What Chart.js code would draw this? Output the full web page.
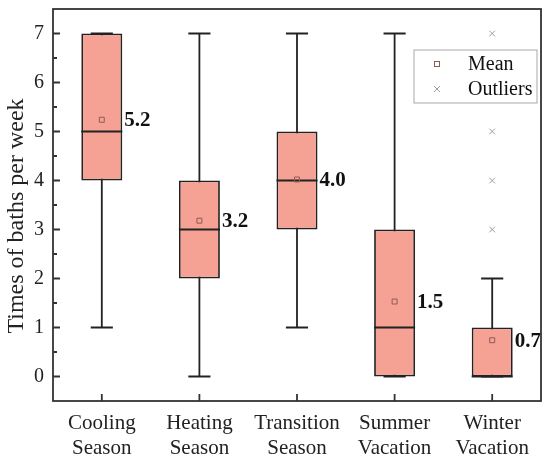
<!DOCTYPE html>
<html>
<head>
<meta charset="utf-8">
<script src="https://cdn.jsdelivr.net/npm/chart.js@4/dist/chart.umd.min.js"></script>
<style>
  html, body { margin: 0; padding: 0; background: #fff; }
  #wrap { width: 550px; height: 463px; }
</style>
</head>
<body>
<div id="wrap"><canvas id="c" width="550" height="463"></canvas></div>
<script>
// ---- data ----
const categories = [['Cooling', 'Season'], ['Heating', 'Season'], ['Transition', 'Season'], ['Summer', 'Vacation'], ['Winter', 'Vacation']];
const minVals = [1, 0, 1, 0, 0];
const q1Vals = [4, 2, 3, 0, 0];
const medianVals = [5, 3, 4, 1, 0];
const q3Vals = [7, 4, 5, 3, 1];
const maxVals = [7, 7, 7, 7, 2];
const meanVals = [5.24, 3.18, 4.02, 1.53, 0.74];
const outlierVals = [[], [], [], [], [7, 5, 4, 3]];
const yTicks = [0, 1, 2, 3, 4, 5, 6, 7];
const yMinorTicks = [0.5, 1.5, 2.5, 3.5, 4.5, 5.5, 6.5];
const yTitle = 'Times of baths per week';
const legendLabels = ['Mean', 'Outliers'];

// ---- styles ----
const SERIF = '"Liberation Serif", "Times New Roman", serif';
const BOX_FILL = '#F5A194';
const LINE = '#222222';
const MEAN_COLOR = '#8e5c53';
const OUT_COLOR = '#9c9c9c';

const outlierPoints = [];
outlierVals.forEach((arr, i) => arr.forEach(v => outlierPoints.push({ x: categories[i], y: v })));

const boxPlugin = {
  id: 'boxPlugin',
  beforeDatasetsDraw(chart) {
    const ctx = chart.ctx;
    const y = chart.scales.y;
    const meta = chart.getDatasetMeta(2);
    ctx.save();
    ctx.strokeStyle = LINE;
    ctx.lineWidth = 1.8;
    meta.data.forEach((bar, i) => {
      const cx = bar.x;
      const half = bar.width * 0.27;
      const yMin = y.getPixelForValue(minVals[i]);
      const yMax = y.getPixelForValue(maxVals[i]);
      ctx.beginPath();
      ctx.moveTo(cx, yMin); ctx.lineTo(cx, yMax);
      ctx.moveTo(cx - half, yMin); ctx.lineTo(cx + half, yMin);
      ctx.moveTo(cx - half, yMax); ctx.lineTo(cx + half, yMax);
      ctx.stroke();
    });
    ctx.restore();
  },
  afterDatasetDraw(chart, args) {
    if (args.meta.type !== 'bar') return;
    const ctx = chart.ctx;
    const y = chart.scales.y;
    ctx.save();
    ctx.strokeStyle = LINE;
    ctx.lineWidth = 1.8;
    args.meta.data.forEach((bar, i) => {
      const py = y.getPixelForValue(medianVals[i]);
      ctx.beginPath();
      ctx.moveTo(bar.x - bar.width / 2, py);
      ctx.lineTo(bar.x + bar.width / 2, py);
      ctx.stroke();
    });
    ctx.restore();
  },
  afterDraw(chart) {
    const ctx = chart.ctx;
    const ca = chart.chartArea;
    const x = chart.scales.x;
    const y = chart.scales.y;
    const meta = chart.getDatasetMeta(2);
    ctx.save();
    // mean labels
    ctx.fillStyle = '#111';
    ctx.font = 'bold 21px ' + SERIF;
    ctx.textAlign = 'left';
    ctx.textBaseline = 'middle';
    meta.data.forEach((bar, i) => {
      ctx.fillText(meanVals[i].toFixed(1), bar.x + bar.width / 2 + 2, y.getPixelForValue(meanVals[i]) + 1);
    });
    // frame
    ctx.strokeStyle = '#333';
    ctx.lineWidth = 1.8;
    ctx.strokeRect(ca.left, ca.top, ca.right - ca.left, ca.bottom - ca.top);
    // ticks (inside)
    ctx.beginPath();
    yTicks.forEach(v => {
      const py = y.getPixelForValue(v);
      ctx.moveTo(ca.left, py); ctx.lineTo(ca.left + 7, py);
    });
    yMinorTicks.forEach(v => {
      const py = y.getPixelForValue(v);
      ctx.moveTo(ca.left, py); ctx.lineTo(ca.left + 4, py);
    });
    categories.forEach((c, i) => {
      const px = x.getPixelForValue(i);
      ctx.moveTo(px, ca.bottom); ctx.lineTo(px, ca.bottom - 7);
    });
    ctx.stroke();
    // y title
    ctx.save();
    ctx.translate(16.5, 216);
    ctx.rotate(-Math.PI / 2);
    ctx.fillStyle = '#222';
    ctx.font = '24px ' + SERIF;
    ctx.textAlign = 'center';
    ctx.textBaseline = 'middle';
    ctx.fillText(yTitle, 0, 0);
    ctx.restore();
    // legend
    const lx = ca.right - 127, ly = ca.top + 41, lw = 123, lh = 53;
    ctx.strokeStyle = '#a8a8a8';
    ctx.lineWidth = 1;
    ctx.strokeRect(lx, ly, lw, lh);
    const r1 = ly + 14, r2 = ly + 39;
    ctx.strokeStyle = MEAN_COLOR;
    ctx.lineWidth = 1;
    ctx.strokeRect(lx + 20.5, r1 - 2.5, 5, 5);
    ctx.strokeStyle = OUT_COLOR;
    ctx.beginPath();
    ctx.moveTo(lx + 20, r2 - 3); ctx.lineTo(lx + 26, r2 + 3);
    ctx.moveTo(lx + 26, r2 - 3); ctx.lineTo(lx + 20, r2 + 3);
    ctx.stroke();
    ctx.fillStyle = '#111';
    ctx.font = '20px ' + SERIF;
    ctx.textAlign = 'left';
    ctx.textBaseline = 'middle';
    ctx.fillText(legendLabels[0], lx + 54, r1 + 1);
    ctx.fillText(legendLabels[1], lx + 54, r2 + 1);
    ctx.restore();
  }
};

new Chart(document.getElementById('c'), {
  type: 'bar',
  data: {
    labels: categories,
    datasets: [
      {
        type: 'line', label: 'Mean', data: meanVals, showLine: false,
        pointStyle: 'rect', pointRadius: 3.5, pointBorderWidth: 1,
        borderColor: MEAN_COLOR, backgroundColor: 'rgba(0,0,0,0)', order: 1
      },
      {
        type: 'line', label: 'Outliers', data: outlierPoints, showLine: false,
        pointStyle: 'crossRot', pointRadius: 4, pointBorderWidth: 1,
        borderColor: OUT_COLOR, backgroundColor: OUT_COLOR, order: 1
      },
      {
        type: 'bar', label: 'Box', data: q1Vals.map((q, i) => [q, q3Vals[i]]),
        backgroundColor: BOX_FILL, borderColor: LINE, borderWidth: 1.8, borderSkipped: false,
        barPercentage: 0.42, categoryPercentage: 1, order: 2
      }
    ]
  },
  options: {
    responsive: false,
    animation: false,
    events: [],
    layout: { padding: { top: 9, right: 9, left: 0, bottom: 0 } },
    plugins: { legend: { display: false }, tooltip: { enabled: false } },
    scales: {
      x: {
        type: 'category', offset: true,
        grid: { display: false, drawTicks: false },
        border: { display: false },
        ticks: { color: '#222', font: { family: SERIF, size: 21 }, padding: 10, maxRotation: 0, autoSkip: false },
        afterFit(s) { s.height = 62; s.paddingLeft = 0; s.paddingRight = 0; }
      },
      y: {
        type: 'linear', min: -0.5, max: 7.5,
        grid: { display: false, drawTicks: false },
        border: { display: false },
        ticks: { color: '#222', font: { family: SERIF, size: 20 }, padding: 9 },
        afterBuildTicks(s) { s.ticks = yTicks.map(v => ({ value: v })); },
        afterFit(s) { s.width = 53; s.paddingTop = 0; s.paddingBottom = 0; }
      }
    }
  },
  plugins: [boxPlugin]
});
</script>
</body>
</html>
